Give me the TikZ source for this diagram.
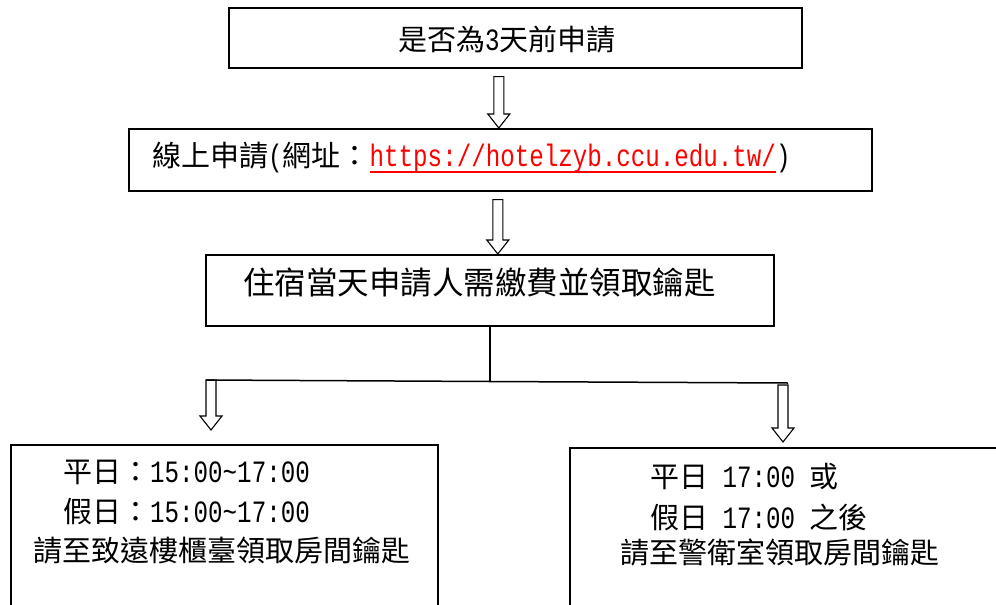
\documentclass[tikz,border=0pt]{standalone}
\usepackage{fontspec}
\setmainfont{Noto Sans CJK TC}
\newfontfamily\latfont[FakeStretch=0.78]{Liberation Mono}
\usetikzlibrary{calc}
\newcommand\en[1]{{\latfont\fontsize{31}{34}\selectfont #1}}
\newcommand\redline[1]{\setbox0\hbox{#1}\rlap{\rule[-6pt]{\wd0}{1.8pt}}\box0}

\begin{document}
\begin{tikzpicture}[x=1pt, y=-1pt,
        box/.style={draw, line width=1.6pt, inner sep=0pt, anchor=north west},
        txt/.style={anchor=west, inner sep=0pt, font=\fontsize{29}{34}\selectfont},
        line/.style={line width=1.5pt},
        blockarrow/.style={line width=1.1pt, to path={let \p1=(\tikztostart), \p2=(\tikztotarget) in
            (\x1-5pt,\y1) -- (\x1+5pt,\y1) -- (\x1+5pt,\y2+14pt) -- (\x1+11pt,\y2+14pt)
            -- (\x1,\y2) -- (\x1-11pt,\y2+14pt) -- (\x1-5pt,\y2+14pt) -- cycle}}
    ]
    \useasboundingbox (0,0) rectangle (996,605);
    % Boxes
    \node[box, minimum width=573pt, minimum height=60pt] (ask) at (228,7) {};
    \node[box, minimum width=743pt, minimum height=62pt] (online) at (128,128) {};
    \node[box, minimum width=568pt, minimum height=71pt] (pay) at (205,254) {};
    \node[box, minimum width=427pt, minimum height=200pt] (desk) at (10,444) {};
    \node[box, minimum width=460pt, minimum height=200pt] (guard) at (569,447) {};
    % Texts
    \node[txt] (asktext) at (398,40) {是否為\en{3}天前申請};
    \node[txt] (onlinetext) at (152,158) {線上申請\en{(}網址：\textcolor{red}{\redline{\en{https://hotelzyb.ccu.edu.tw/}}}\en{)}};
    \node[txt, font=\fontsize{31.5}{36}\selectfont] (paytext) at (243,283) {住宿當天申請人需繳費並領取鑰匙};
    \node[txt] (desk1) at (63,472) {平日：\en{15:00\textasciitilde17:00}};
    \node[txt] (desk2) at (63,512) {假日：\en{15:00\textasciitilde17:00}};
    \node[txt] (desk3) at (33,551) {請至致遠樓櫃臺領取房間鑰匙};
    \node[txt] (guard1) at (650,477) {平日\en{ 17:00 }或};
    \node[txt] (guard2) at (650,517) {假日\en{ 17:00 }之後};
    \node[txt] (guard3) at (620,553) {請至警衛室領取房間鑰匙};
    % Fork
    \coordinate (forkL) at (206,380);
    \coordinate (forkR) at (788,383);
    \coordinate (fork) at (pay.south |- 0,381.5);
    \draw[line] (pay.south) -- (fork);
    \draw[line] (forkL) -- (fork) -- (forkR);
    % Arrows
    \coordinate (a1) at ($(ask.south)+(-16.5,8)$);
    \coordinate (a2) at ($(online.south)+(-2.5,8)$);
    \coordinate (a3) at (211,380);
    \coordinate (a4) at (783,385);
    \draw[blockarrow] (a1) to (a1 |- online.north);
    \draw[blockarrow] (a2) to (a2 |- pay.north);
    \draw[blockarrow] (a3) to (211,430);
    \draw[blockarrow] (a4) to (783,442);
\end{tikzpicture}
\end{document}
